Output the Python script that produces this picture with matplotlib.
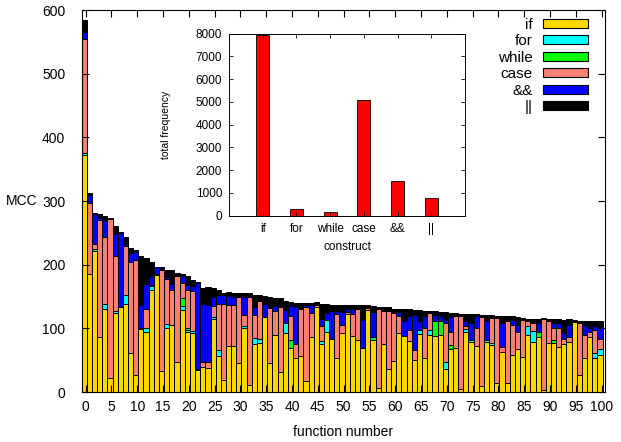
import matplotlib.pyplot as plt
import numpy as np
from matplotlib.patches import Patch

plt.rcParams["font.family"] = ["Liberation Sans", "DejaVu Sans"]

CONSTRUCTS = ["if", "for", "while", "case", "&&", "||"]
CONSTRUCT_COLORS = ["#ffd700", "#00ffff", "#00ff00", "#fa8072", "#0000ff", "#000000"]

# construct counts per function, functions ordered by decreasing MCC
IF_COUNT = [
    372, 186, 222, 86, 130, 22, 124, 134, 138, 61,
    27, 99, 95, 160, 184, 33, 100, 105, 48, 129,
    95, 92, 35, 39, 38, 114, 56, 19, 73, 72,
    46, 100, 11, 76, 77, 118, 46, 90, 32, 92,
    70, 53, 57, 17, 87, 134, 75, 94, 84, 53,
    93, 123, 88, 81, 70, 129, 82, 7, 75, 37,
    49, 92, 88, 80, 50, 91, 53, 89, 88, 89,
    37, 68, 70, 5, 95, 78, 72, 10, 78, 74,
    15, 63, 15, 58, 68, 55, 89, 79, 86, 3,
    77, 77, 71, 76, 79, 110, 27, 53, 87, 53,
    58,
]
FOR_COUNT = [
    4, 0, 0, 0, 8, 0, 4, 0, 14, 0,
    0, 0, 5, 6, 0, 0, 7, 0, 0, 6,
    3, 4, 0, 0, 0, 4, 10, 0, 0, 0,
    0, 4, 0, 9, 7, 0, 0, 0, 0, 16,
    0, 0, 0, 0, 0, 0, 5, 19, 0, 0,
    0, 0, 0, 0, 0, 0, 0, 0, 0, 0,
    0, 0, 0, 0, 0, 7, 0, 8, 0, 0,
    10, 0, 0, 0, 4, 4, 0, 0, 3, 3,
    0, 0, 0, 0, 0, 0, 14, 17, 0, 0,
    0, 0, 0, 0, 0, 0, 0, 0, 0, 8,
    10,
]
WHILE_COUNT = [
    0, 0, 3, 0, 0, 0, 0, 0, 0, 0,
    0, 2, 0, 0, 0, 0, 0, 0, 0, 12,
    3, 0, 0, 0, 0, 0, 0, 0, 0, 0,
    0, 0, 0, 0, 0, 0, 0, 0, 0, 0,
    11, 0, 0, 0, 0, 0, 0, 0, 0, 0,
    0, 0, 0, 0, 0, 0, 5, 0, 0, 0,
    0, 0, 0, 0, 0, 0, 0, 0, 23, 23,
    0, 6, 0, 0, 0, 0, 0, 0, 0, 0,
    0, 0, 0, 0, 0, 0, 0, 0, 8, 0,
    0, 4, 0, 0, 0, 0, 0, 0, 0, 0,
    0,
]
CASE_COUNT = [
    178, 111, 8, 185, 105, 250, 86, 0, 77, 144,
    180, 0, 31, 2, 2, 158, 71, 55, 134, 24,
    60, 62, 2, 8, 9, 17, 73, 119, 64, 65,
    104, 17, 139, 36, 59, 0, 86, 37, 102, 0,
    38, 23, 73, 116, 37, 3, 24, 0, 0, 69,
    13, 3, 34, 50, 0, 3, 0, 124, 52, 90,
    75, 28, 0, 18, 16, 0, 48, 27, 0, 0,
    61, 20, 50, 115, 4, 0, 29, 108, 0, 40,
    102, 8, 97, 47, 26, 58, 9, 12, 0, 111,
    34, 20, 30, 8, 8, 0, 81, 37, 8, 37,
    16,
]
AND_COUNT = [
    12, 13, 47, 3, 27, 0, 35, 116, 4, 13,
    13, 36, 39, 15, 10, 0, 3, 10, 0, 11,
    7, 8, 135, 91, 89, 15, 13, 15, 14, 12,
    0, 29, 0, 12, 2, 21, 0, 8, 0, 21,
    16, 57, 0, 3, 12, 0, 11, 11, 44, 5,
    20, 5, 8, 0, 43, 0, 39, 0, 0, 0,
    0, 5, 24, 22, 55, 13, 18, 0, 10, 8,
    5, 24, 0, 0, 8, 26, 18, 0, 30, 0,
    0, 37, 0, 8, 12, 0, 0, 0, 14, 0,
    0, 8, 8, 8, 18, 0, 0, 16, 6, 5,
    16,
]
OR_COUNT = [
    18, 3, 2, 6, 6, 2, 12, 2, 10, 8,
    3, 76, 41, 22, 1, 5, 11, 22, 5, 4,
    14, 10, 1, 26, 29, 14, 8, 3, 6, 6,
    6, 5, 5, 20, 7, 12, 18, 13, 13, 14,
    7, 7, 10, 4, 4, 4, 24, 14, 9, 10,
    11, 6, 6, 5, 23, 4, 9, 3, 6, 6,
    7, 6, 18, 10, 8, 18, 9, 4, 6, 6,
    12, 6, 4, 3, 12, 14, 3, 3, 10, 4,
    3, 12, 8, 6, 12, 4, 3, 7, 7, 3,
    4, 5, 5, 21, 9, 3, 4, 6, 10, 8,
    11,
]

# summed over the whole code base
TOTAL_FREQUENCY = [7950, 280, 147, 5090, 1515, 795]

fig = plt.figure(figsize=(6.21, 4.42), dpi=100)
ax = fig.add_axes([0.132, 0.113, 0.842, 0.864])

counts = np.array(
    [IF_COUNT, FOR_COUNT, WHILE_COUNT, CASE_COUNT, AND_COUNT, OR_COUNT],
    dtype=float,
)
positions = np.arange(counts.shape[1]) - 0.3
bottom = np.zeros(counts.shape[1])
for row, color in zip(counts, CONSTRUCT_COLORS):
    ax.bar(
        positions,
        row,
        width=1.0,
        bottom=bottom,
        color=color,
        edgecolor="black",
        linewidth=0.7,
    )
    bottom += row

ax.set_xlim(-0.72, 100.64)
ax.set_ylim(0, 600)
ax.set_xticks(np.arange(0, 101, 5))
ax.set_yticks(np.arange(0, 601, 100))
ax.tick_params(direction="in", top=True, right=True, length=5, width=0.8,
               labelsize=10)
ax.tick_params(axis="x", pad=6)
ax.tick_params(axis="y", pad=12)
for spine in ax.spines.values():
    spine.set_linewidth(0.8)

ax.set_xlabel("function number", fontsize=10)
ax.xaxis.set_label_coords(0.5, -0.087)
ax.set_ylabel("MCC", fontsize=10, rotation=0, va="center", ha="center")
ax.yaxis.set_label_coords(-0.115, 0.5)

handles = [
    Patch(facecolor=color, edgecolor="black", linewidth=0.8, label=name)
    for name, color in zip(CONSTRUCTS, CONSTRUCT_COLORS)
]
ax.legend(
    handles=handles,
    loc="upper right",
    bbox_to_anchor=(0.967, 0.98),
    frameon=False,
    markerfirst=False,
    handlelength=2.9,
    handleheight=0.55,
    handletextpad=0.7,
    labelspacing=0.16,
    borderaxespad=0,
    borderpad=0,
    fontsize=11,
)

# inset: construct frequency over everything
ins = fig.add_axes([0.3688, 0.512, 0.38, 0.412])
ins.bar(
    np.arange(1, len(TOTAL_FREQUENCY) + 1),
    TOTAL_FREQUENCY,
    width=0.38,
    color="#ff0000",
    edgecolor="black",
    linewidth=0.6,
)
ins.set_xlim(0, 7)
ins.set_ylim(0, 8000)
ins.set_xticks(np.arange(1, len(CONSTRUCTS) + 1))
ins.set_xticklabels(CONSTRUCTS)
ins.set_yticks(np.arange(0, 8001, 1000))
ins.tick_params(direction="in", top=True, right=True, length=3, width=0.6,
                labelsize=8.5, pad=5)
for spine in ins.spines.values():
    spine.set_linewidth(0.7)
ins.set_xlabel("construct", fontsize=8.5)
ins.xaxis.set_label_coords(0.5, -0.14)
ins.set_ylabel("total frequency", fontsize=7.5)
ins.yaxis.set_label_coords(-0.245, 0.5)

fig.savefig("out.png", dpi=100)
